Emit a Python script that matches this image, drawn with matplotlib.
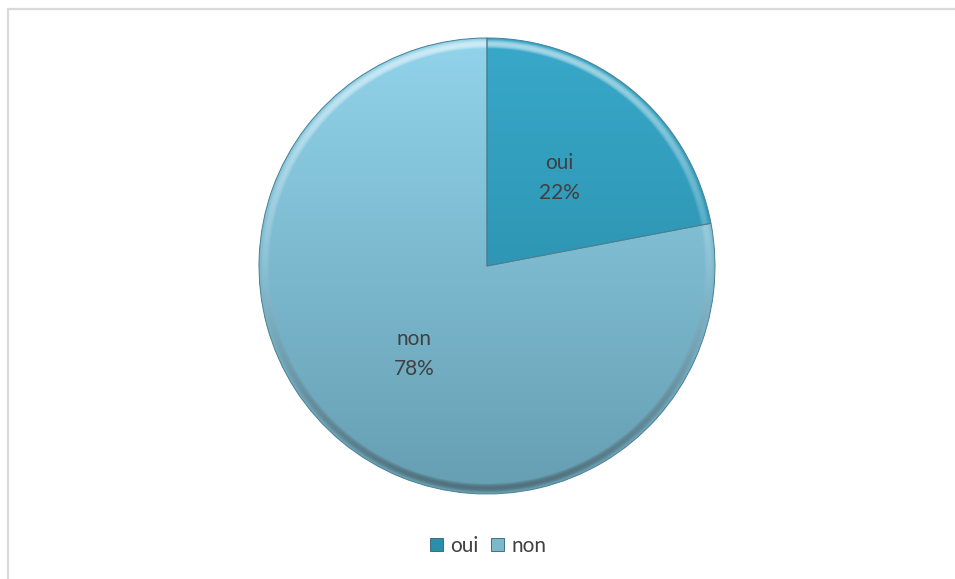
import numpy as np
import matplotlib
matplotlib.use("Agg")
import matplotlib.pyplot as plt
from matplotlib.patches import Rectangle

categories = ["oui", "non"]
values = [22, 78]
pct_labels = ["22%", "78%"]

# gradient colours (top, bottom) for each slice
top_colors = [(0.22, 0.66, 0.79), (0.57, 0.83, 0.92)]
bottom_colors = [(0.15, 0.52, 0.63), (0.40, 0.62, 0.70)]
legend_colors = ["#2a8fab", "#7ab8cc"]
text_color = "#404040"
font = ["Lato", "DejaVu Sans"]

fig = plt.figure(figsize=(9.55, 5.79), dpi=100)
fig.patch.set_facecolor("white")

# chart area border (left and top visible)
fig.patches.append(Rectangle((7.5 / 955, -1.0), 2.0, 2.0 - 8.5 / 579,
                             transform=fig.transFigure, fill=False,
                             edgecolor="#d9d9d9", linewidth=1.6))

ax = fig.add_axes([(487 - 228) / 955, (579 - 494) / 579, 456 / 955, 456 / 579])
ax.axis("off")

wedges, texts = ax.pie(values, startangle=90, counterclock=False, radius=1.0,
                       wedgeprops=dict(linewidth=0.7, edgecolor="#4a7f90"))

# per-pixel shading: vertical gradient plus a bevelled rim
N = 800
xs = np.linspace(-1, 1, N)
X, Y = np.meshgrid(xs, xs[::-1])
R = np.sqrt(X ** 2 + Y ** 2)
t = (Y + 1) / 2  # 1 at top, 0 at bottom
rim = np.clip((R - 0.955) / 0.04, 0, 1)
rim = np.sin(rim * np.pi) ** 0.8

for i, w in enumerate(wedges):
    top = np.array(top_colors[i])
    bot = np.array(bottom_colors[i])
    img = bot[None, None, :] * (1 - t[..., None]) + top[None, None, :] * t[..., None]
    light = np.clip(Y, 0, 1) * 0.45 * rim + 0.12 * rim
    dark = np.clip(-Y, 0, 1) * 0.35 * rim
    img = img + (1 - img) * light[..., None]
    img = img * (1 - dark[..., None])
    img = np.clip(img, 0, 1)
    im = ax.imshow(img, extent=[-1, 1, -1, 1], origin="upper",
                   interpolation="bilinear", zorder=1)
    im.set_clip_path(w)
    w.set_facecolor("none")
    w.set_zorder(2)

ax.set_xlim(-1.0, 1.0)
ax.set_ylim(-1.0, 1.0)
ax.set_aspect("equal")

# slice labels at half radius
for i, w in enumerate(wedges):
    ang = np.deg2rad((w.theta1 + w.theta2) / 2)
    x, y = 0.5 * np.cos(ang), 0.5 * np.sin(ang)
    ax.text(x, y, f"{categories[i]}\n{pct_labels[i]}", ha="center", va="center",
            fontsize=15, color=text_color, family=font, linespacing=1.65, zorder=5)

handles = [Rectangle((0, 0), 1, 1, facecolor=c, edgecolor="#2f5f6e", linewidth=0.6)
           for c in legend_colors]
fig.legend(handles, categories, loc="center", bbox_to_anchor=(0.511, 0.057),
           ncol=2, frameon=False, prop=dict(family=font, size=15),
           labelcolor=text_color, handlelength=0.62, handleheight=0.62,
           handletextpad=0.35, columnspacing=0.6)

fig.savefig("out.png", dpi=100)
